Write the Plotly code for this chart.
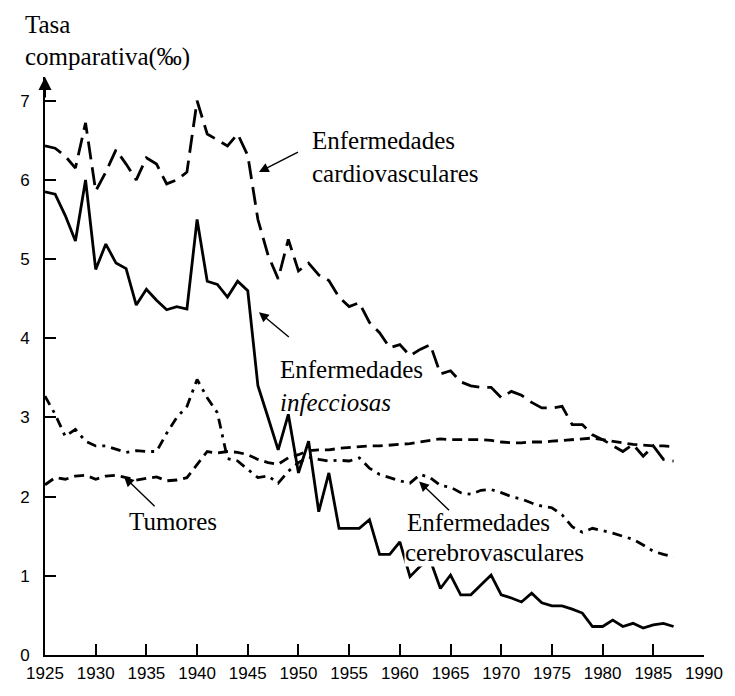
import plotly.graph_objects as go

years = list(range(1925, 1988))

cardiovasculares = [6.43, 6.40, 6.30, 6.15, 6.72, 5.86, 6.10, 6.38, 6.20, 6.00,
                    6.28, 6.20, 5.95, 6.00, 6.10, 7.00, 6.58, 6.50, 6.43, 6.58,
                    6.31, 5.50, 5.05, 4.75, 5.25, 4.85, 4.95, 4.80, 4.73, 4.52,
                    4.40, 4.45, 4.20, 4.07, 3.88, 3.92, 3.78, 3.86, 3.92, 3.55,
                    3.59, 3.45, 3.40, 3.38, 3.38, 3.25, 3.33, 3.28, 3.19, 3.12,
                    3.12, 3.14, 2.91, 2.91, 2.78, 2.72, 2.65, 2.57, 2.66, 2.51,
                    2.64, 2.47, 2.45]

infecciosas = [5.85, 5.82, 5.55, 5.23, 6.00, 4.87, 5.19, 4.95, 4.88, 4.42,
               4.62, 4.48, 4.36, 4.40, 4.37, 5.50, 4.72, 4.68, 4.52, 4.72,
               4.60, 3.40, 3.00, 2.59, 3.04, 2.30, 2.70, 1.81, 2.30, 1.60,
               1.60, 1.60, 1.71, 1.27, 1.27, 1.43, 0.99, 1.12, 1.20, 0.84,
               1.01, 0.76, 0.76, 0.88, 1.01, 0.76, 0.72, 0.67, 0.78, 0.66,
               0.62, 0.62, 0.58, 0.53, 0.36, 0.36, 0.44, 0.36, 0.40, 0.34,
               0.38, 0.40, 0.36]

tumores = [2.15, 2.24, 2.22, 2.26, 2.27, 2.22, 2.26, 2.27, 2.24, 2.21,
           2.23, 2.25, 2.20, 2.21, 2.24, 2.40, 2.57, 2.55, 2.57, 2.56,
           2.53, 2.47, 2.43, 2.41, 2.49, 2.53, 2.58, 2.59, 2.59, 2.61,
           2.62, 2.63, 2.64, 2.64, 2.65, 2.66, 2.67, 2.69, 2.71, 2.73,
           2.72, 2.72, 2.72, 2.72, 2.71, 2.69, 2.68, 2.68, 2.69, 2.69,
           2.70, 2.71, 2.72, 2.73, 2.74, 2.72, 2.70, 2.68, 2.66, 2.65,
           2.64, 2.64, 2.63]

cerebrovasculares = [3.27, 3.04, 2.76, 2.85, 2.70, 2.64, 2.64, 2.60, 2.56, 2.58,
                     2.57, 2.57, 2.80, 3.00, 3.14, 3.48, 3.25, 3.06, 2.48, 2.45,
                     2.35, 2.24, 2.26, 2.17, 2.32, 2.43, 2.50, 2.47, 2.45, 2.46,
                     2.45, 2.49, 2.36, 2.28, 2.24, 2.20, 2.17, 2.28, 2.24, 2.14,
                     2.12, 2.05, 2.03, 2.08, 2.09, 2.05, 2.00, 1.97, 1.92, 1.88,
                     1.86, 1.77, 1.62, 1.55, 1.60, 1.57, 1.54, 1.50, 1.46, 1.39,
                     1.31, 1.27, 1.24]

x_ticks = list(range(1925, 1991, 5))
y_ticks = list(range(0, 8))

SERIF = "Liberation Serif, Times New Roman, serif"
SANS = "Liberation Sans, Arial, sans-serif"

fig = go.Figure()

def add_line(y, dash, width=2.8):
    fig.add_trace(go.Scatter(x=years, y=y, mode="lines", cliponaxis=False,
                             line=dict(color="black", width=width, dash=dash),
                             showlegend=False, hoverinfo="skip"))

add_line(cardiovasculares, "18px,8px")
add_line(infecciosas, "solid")
add_line(tumores, "10px,6px")
add_line(cerebrovasculares, "10px,6px,3px,6px")

def label(text, x, y, xanchor="left", bg="rgba(0,0,0,0)"):
    fig.add_annotation(x=x, y=y, text=text, showarrow=False, xanchor=xanchor,
                       yanchor="middle", align="left", bgcolor=bg, borderpad=0,
                       font=dict(family=SERIF, size=25, color="black"))

label("Enfermedades<br>cardiovasculares", 1951.2, 6.29)
label("Enfermedades<br><i>infecciosas</i>", 1948.1, 3.40)
label("Tumores", 1937.6, 1.68, xanchor="center")
label("Enfermedades", 1960.65, 1.67)
label("cerebrovasculares", 1960.45, 1.29, bg="white")

def arrow(tail, tip):
    fig.add_annotation(x=tip[0], y=tip[1], ax=tail[0], ay=tail[1], axref="x", ayref="y",
                       text="", showarrow=True, arrowhead=2, arrowsize=1.4,
                       arrowwidth=1.4, arrowcolor="black")

arrow((1950.1, 6.36), (1946.1, 6.10))
arrow((1949.2, 4.00), (1946.1, 4.33))
arrow((1935.96, 1.86), (1932.8, 2.25))
arrow((1965.0, 1.81), (1961.9, 2.19))

# y-axis arrowhead
fig.add_annotation(x=1925, y=7.30, ax=0, ay=22, text="", showarrow=True,
                   arrowhead=2, arrowsize=1.3, arrowwidth=2, arrowcolor="black")

# axis title
fig.add_annotation(xref="paper", yref="paper", x=-0.034, y=1.09, text="Tasa",
                   showarrow=False, xanchor="left", yanchor="middle",
                   font=dict(family=SERIF, size=25, color="black"))
fig.add_annotation(xref="paper", yref="paper", x=-0.034, y=1.035, text="comparativa(‰)",
                   showarrow=False, xanchor="left", yanchor="middle",
                   font=dict(family=SERIF, size=25, color="black"))

fig.update_xaxes(range=[1925, 1990], tickvals=x_ticks, ticktext=[str(v) for v in x_ticks],
                 showgrid=False, zeroline=False, showline=True, linecolor="black", linewidth=2,
                 ticks="inside", ticklen=11, tickwidth=1.6, tickcolor="black",
                 ticklabelstandoff=2,
                 tickfont=dict(family=SANS, size=17, color="black"))
fig.update_yaxes(range=[0, 7.30], tickvals=y_ticks, ticktext=[str(v) for v in y_ticks],
                 showgrid=False, zeroline=False, showline=True, linecolor="black", linewidth=2,
                 ticks="inside", ticklen=11, tickwidth=1.6, tickcolor="black",
                 ticklabelstandoff=10,
                 tickfont=dict(family=SANS, size=17, color="black"))

# page has an 8px body margin; size and margins compensate so the plot area
# sits at the same page position as the reference
fig.update_layout(width=727, height=688, plot_bgcolor="white", paper_bgcolor="white",
                  margin=dict(l=28, r=23, t=69, b=41), showlegend=False)

fig.write_html("out.html")
